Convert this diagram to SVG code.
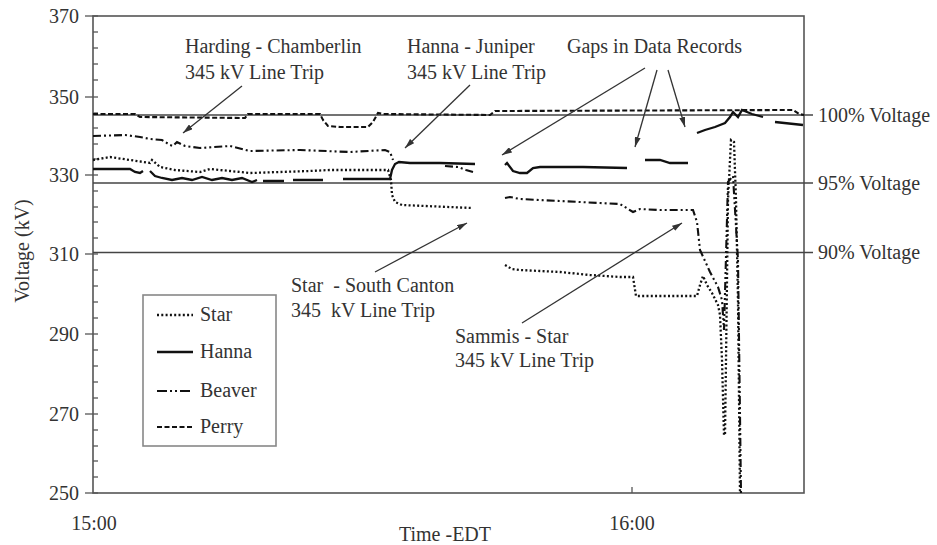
<svg xmlns="http://www.w3.org/2000/svg" width="937" height="545" viewBox="0 0 937 545">
<style>
text{font-family:"Liberation Serif","Times New Roman",serif;font-size:20px;fill:#333}
.ann{font-size:20px}
.axis{fill:none;stroke:#555;stroke-width:1.6}
.tick{stroke:#555;stroke-width:1.3}
.ref{stroke:#444;stroke-width:1.4}
.arr{stroke:#333;stroke-width:1.3;fill:none;marker-end:url(#ah)}
.star{fill:none;stroke:#111;stroke-width:2.3;stroke-dasharray:2 2.3}
.hanna{fill:none;stroke:#111;stroke-width:2.3}
.beaver{fill:none;stroke:#111;stroke-width:2.1;stroke-dasharray:8 3 2 3 2 3}
.perry{fill:none;stroke:#111;stroke-width:2.1;stroke-dasharray:5 2.5}
</style>
<defs>
<marker id="ah" viewBox="0 0 10 6" refX="10" refY="3" markerWidth="10" markerHeight="6" markerUnits="userSpaceOnUse" orient="auto">
<path d="M0,0 L10,3 L0,6 Z" fill="#333"/>
</marker>
</defs>
<rect width="937" height="545" fill="#fff"/>
<g id="axes">
<rect class="axis" x="93" y="16" width="711" height="477"/>
<g class="tick">
<line x1="85" y1="16" x2="98" y2="16"/><line x1="85" y1="97" x2="98" y2="97"/><line x1="85" y1="175" x2="98" y2="175"/><line x1="85" y1="254" x2="98" y2="254"/><line x1="85" y1="334" x2="98" y2="334"/><line x1="85" y1="414" x2="98" y2="414"/><line x1="85" y1="493" x2="98" y2="493"/>
<line x1="93" y1="32" x2="98" y2="32"/><line x1="93" y1="48" x2="98" y2="48"/><line x1="93" y1="64" x2="98" y2="64"/><line x1="93" y1="80" x2="98" y2="80"/>
<line x1="93" y1="113" x2="98" y2="113"/><line x1="93" y1="128" x2="98" y2="128"/><line x1="93" y1="144" x2="98" y2="144"/><line x1="93" y1="159" x2="98" y2="159"/>
<line x1="93" y1="191" x2="98" y2="191"/><line x1="93" y1="207" x2="98" y2="207"/><line x1="93" y1="222" x2="98" y2="222"/><line x1="93" y1="238" x2="98" y2="238"/>
<line x1="93" y1="270" x2="98" y2="270"/><line x1="93" y1="286" x2="98" y2="286"/><line x1="93" y1="302" x2="98" y2="302"/><line x1="93" y1="318" x2="98" y2="318"/>
<line x1="93" y1="350" x2="98" y2="350"/><line x1="93" y1="366" x2="98" y2="366"/><line x1="93" y1="382" x2="98" y2="382"/><line x1="93" y1="398" x2="98" y2="398"/>
<line x1="93" y1="430" x2="98" y2="430"/><line x1="93" y1="446" x2="98" y2="446"/><line x1="93" y1="461" x2="98" y2="461"/><line x1="93" y1="477" x2="98" y2="477"/>
<line x1="632" y1="487" x2="632" y2="493"/>
</g>
<g text-anchor="end">
<text x="79" y="23">370</text><text x="79" y="104">350</text><text x="79" y="182">330</text><text x="79" y="261">310</text><text x="79" y="341">290</text><text x="79" y="421">270</text><text x="79" y="500">250</text>
</g>
<text x="94" y="530" text-anchor="middle">15:00</text>
<text x="632" y="530" text-anchor="middle">16:00</text>
<text x="445" y="541" text-anchor="middle">Time -EDT</text>
<text transform="translate(29,251) rotate(-90)" text-anchor="middle">Voltage (kV)</text>
</g>
<g id="reference-lines">
<line class="ref" x1="93" y1="115" x2="813" y2="115"/>
<line class="ref" x1="93" y1="183" x2="813" y2="183"/>
<line class="ref" x1="93" y1="252.5" x2="813" y2="252.5"/>
<text x="818" y="122">100% Voltage</text>
<text x="818" y="190">95% Voltage</text>
<text x="818" y="259">90% Voltage</text>
</g>
<g id="series">
<path id="perry" class="perry" d="M93,114 L135,114 L140,117 L245,118 L248,114 L320,114 L323,120 L328,126 L340,127 L368,127 L373,122 L378,113 L383,114 L490,115 L495,111 L793,110 L799,114 L804,115"/>
<path id="beaver" class="beaver" d="M93,136 L125,135 L140,137 L150,139 L162,140 L170,145 L173,146 L177,142 L185,146 L200,148 L230,146 L250,151 L300,150 L350,152 L385,150 L390,152 L393,160 M445,166 L458,167 L466,170 L473,172 M505,198 L510,197 L520,199 L540,200 L560,201 L580,202 L600,203 L620,204 L633,212 L640,209 L660,210 L693,210 L697,222 L700,250 L710,272 L718,287 L722,300 L724,330 L728,182 L733,176 L738,260 L741,493"/>
<path id="hanna" class="hanna" d="M93,169 L130,169 L135,172 L140,173 L143,171 M150,171 L155,176 L162,178 L172,180 L182,178 L192,180 L202,177 L212,180 L222,178 L232,180 L242,178 L252,182 L257,180 M263,181 L284,181 M293,180 L323,180 M343,179 L390,179 L392,170 L395,164 L399,162 L410,163 L440,163 L475,164 M505,165 L507,163 L513,171 L520,173 L527,173 L533,168 L540,167 L583,167 L627,168 M645,160 L660,160 L670,163 L688,163 M697,133 L705,130 L715,127 L725,123 L730,117 L733,112 L738,117 L742,110 L747,112 L752,114 L763,117 M775,122 L803,125"/>
<path id="star" class="star" d="M93,160 L110,157 L130,160 L150,163 L152,160 L160,167 L175,170 L200,172 L210,169 L230,171 L250,173 L280,172 L310,171 L330,170 L388,170 L391,180 L392,195 L395,202 L402,205 L472,208 M505,265 L512,269 L520,270 L540,271 L560,272 L590,275 L620,277 L633,277 L636,296 L697,296 L700,285 L703,276 L707,285 L712,293 L718,305 L720,315 L722,360 L724,435 L725,435 L726,360 L728,200 L731,140 L734,142 L736,200 L738,300 L740,493"/>
</g>
<g id="legend">
<rect x="143" y="295" width="133" height="151" fill="#fff" stroke="#888" stroke-width="1.6"/>
<line class="star" x1="157" y1="315" x2="193" y2="315"/>
<line class="hanna" x1="157" y1="352" x2="193" y2="352"/>
<line class="beaver" x1="157" y1="391" x2="193" y2="391" style="stroke-dasharray:10 3 2 3 2 3"/>
<line class="perry" x1="157" y1="427" x2="193" y2="427"/>
<text x="200" y="321">Star</text>
<text x="200" y="358">Hanna</text>
<text x="200" y="397">Beaver</text>
<text x="200" y="433">Perry</text>
</g>
<g id="connectors">
<line class="arr" x1="242" y1="86" x2="183" y2="133"/>
<line class="arr" x1="470" y1="85" x2="405" y2="148"/>
<line class="arr" x1="645" y1="68" x2="502" y2="155"/>
<line class="arr" x1="657" y1="70" x2="635" y2="147"/>
<line class="arr" x1="668" y1="70" x2="685" y2="127"/>
<line class="arr" x1="375" y1="272" x2="467" y2="223"/>
<line class="arr" x1="522" y1="323" x2="682" y2="223"/>
</g>
<g id="annotation-harding"><text class="ann" x="185" y="53">Harding - Chamberlin</text><text class="ann" x="185" y="79">345 kV Line Trip</text></g>
<g id="annotation-hanna"><text class="ann" x="407" y="53">Hanna - Juniper</text><text class="ann" x="407" y="79">345 kV Line Trip</text></g>
<g id="annotation-gaps"><text class="ann" x="567" y="53">Gaps in Data Records</text></g>
<g id="annotation-star"><text class="ann" x="291" y="292" xml:space="preserve">Star  - South Canton</text><text class="ann" x="291" y="317" xml:space="preserve">345  kV Line Trip</text></g>
<g id="annotation-sammis"><text class="ann" x="455" y="343">Sammis - Star</text><text class="ann" x="455" y="367">345 kV Line Trip</text></g>
</svg>
